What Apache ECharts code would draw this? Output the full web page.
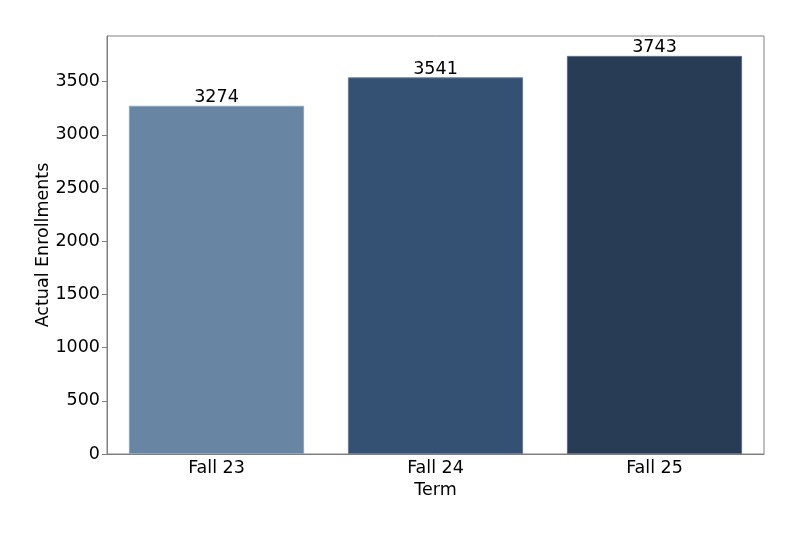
<!DOCTYPE html>
<html>
<head>
<meta charset="utf-8">
<script src="https://cdn.jsdelivr.net/npm/echarts@6/dist/echarts.min.js"></script>
<style>
  html, body { margin: 0; padding: 0; background: #fff; }
  #main { width: 800px; height: 533px; }
</style>
</head>
<body>
<div id="main"></div>
<script>
// data
const terms = ['Fall 23', 'Fall 24', 'Fall 25'];
const enrollments = [3274, 3541, 3743];
const barColors = ['#6886a3', '#345073', '#283c55'];
const yTicks = [0, 500, 1000, 1500, 2000, 2500, 3000, 3500];

const font = 'DejaVu Sans';
const fs = 17.5;
const frame = '#808080';

const chart = echarts.init(document.getElementById('main'));

chart.setOption({
  animation: false,
  textStyle: { fontFamily: font },
  grid: {
    left: 107, right: 36, top: 36, bottom: 79,
    show: true, borderColor: frame, borderWidth: 1
  },
  xAxis: {
    type: 'category',
    data: terms,
    name: 'Term',
    nameLocation: 'middle',
    nameGap: 22,
    nameTextStyle: { color: '#000', fontSize: fs, fontFamily: font },
    axisLine: { lineStyle: { color: frame } },
    axisTick: { alignWithLabel: true, length: 5, lineStyle: { color: frame } },
    axisLabel: { color: '#000', fontSize: fs, margin: 5, fontFamily: font }
  },
  yAxis: {
    type: 'value',
    min: 0,
    max: 3930,
    interval: 500,
    name: 'Actual Enrollments',
    nameLocation: 'middle',
    nameGap: 55,
    nameMoveOverlap: false,
    nameTextStyle: { color: '#000', fontSize: fs, fontFamily: font },
    splitLine: { show: false },
    axisLine: { show: true, lineStyle: { color: frame } },
    axisTick: { show: true, length: 5, customValues: yTicks, lineStyle: { color: frame } },
    axisLabel: {
      color: '#000', fontSize: fs, margin: 7, customValues: yTicks, fontFamily: font,
      formatter: v => String(v)
    }
  },
  series: [{
    type: 'bar',
    barCategoryGap: '20%',
    data: enrollments.map((v, i) => ({
      value: v,
      itemStyle: {
        color: barColors[i],
        borderColor: echarts.color.lift(barColors[i], 0.25),
        borderWidth: 1
      }
    })),
    label: {
      show: true,
      position: 'top',
      distance: -1,
      color: '#000',
      fontSize: fs,
      fontFamily: font
    }
  }]
});
</script>
</body>
</html>
